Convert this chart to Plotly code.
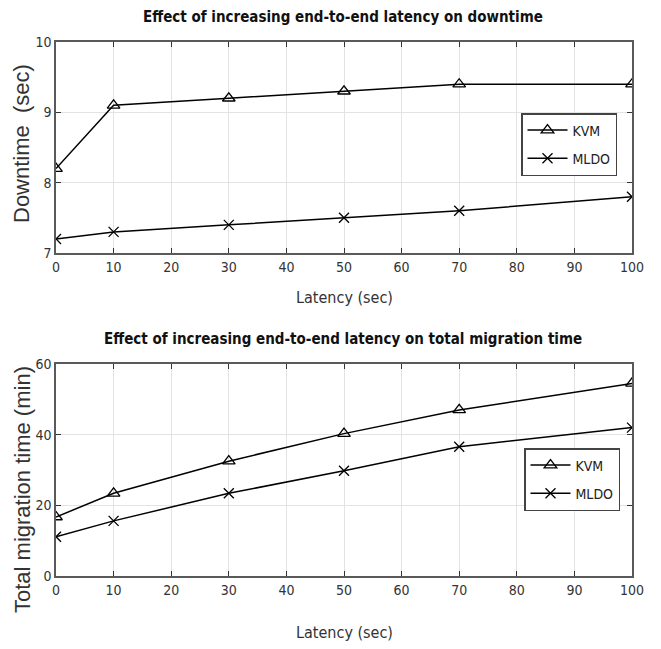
import plotly.graph_objects as go

latency = [0, 10, 30, 50, 70, 100]
downtime_kvm = [8.2, 9.1, 9.2, 9.3, 9.4, 9.4]
downtime_mldo = [7.2, 7.3, 7.4, 7.5, 7.6, 7.8]
migration_kvm = [16.7, 23.4, 32.5, 40.3, 47.0, 54.5]
migration_mldo = [11.1, 15.6, 23.4, 29.8, 36.6, 42.0]
x_ticks = [0, 10, 20, 30, 40, 50, 60, 70, 80, 90, 100]

NARROW = "DejaVu Sans Condensed, Liberation Sans Narrow, Arial Narrow, sans-serif"
WIDE = "Liberation Sans, Arial, sans-serif"

fig = go.Figure()

line = dict(color="black", width=1.5)
tri = dict(symbol="triangle-up-open", size=11, color="black", line=dict(width=1.3, color="black"))
xm = dict(symbol="x-thin-open", size=10, color="black", line=dict(width=1.3, color="black"))

fig.add_trace(go.Scatter(x=latency, y=downtime_kvm, name="KVM", mode="lines+markers",
                         line=line, marker=tri, xaxis="x", yaxis="y", legend="legend",
                         legendgroup="a"))
fig.add_trace(go.Scatter(x=latency, y=downtime_mldo, name="MLDO", mode="lines+markers",
                         line=line, marker=xm, xaxis="x", yaxis="y", legend="legend",
                         legendgroup="b"))
fig.add_trace(go.Scatter(x=latency, y=migration_kvm, name="KVM", mode="lines+markers",
                         line=line, marker=tri, xaxis="x2", yaxis="y2", legend="legend2",
                         legendgroup="c"))
fig.add_trace(go.Scatter(x=latency, y=migration_mldo, name="MLDO", mode="lines+markers",
                         line=line, marker=xm, xaxis="x2", yaxis="y2", legend="legend2",
                         legendgroup="d"))

W, H = 661, 649
OFF = 8  # default body margin of the page
PW, PH = W - OFF, H - OFF


def fx(p):
    return (p - OFF) / PW


def fy(p):
    return 1 - (p - OFF) / PH


xdom = [fx(56), fx(632)]
top_dom = [fy(253), fy(42)]
bot_dom = [fy(576), fy(364)]

axis_common = dict(
    showgrid=True, gridcolor="#e3e3e3", gridwidth=1,
    showline=True, linecolor="#5a5a5a", linewidth=1.5, mirror="ticks",
    ticks="inside", ticklen=5, tickcolor="#333333", tickwidth=1,
    zeroline=False, automargin=False,
    tickfont=dict(family=NARROW, size=14, color="#333333"),
)

legend_common = dict(xanchor="right", yanchor="top", bgcolor="white",
                     bordercolor="#444444", borderwidth=1.5, tracegroupgap=7,
                     font=dict(family=NARROW, size=14, color="#222222"), itemwidth=40)

fig.update_layout(
    width=PW, height=PH,
    margin=dict(l=0, r=0, t=0, b=0),
    paper_bgcolor="white", plot_bgcolor="white",
    xaxis=dict(domain=xdom, anchor="y", range=[0, 100], tickvals=x_ticks, **axis_common),
    yaxis=dict(domain=top_dom, anchor="x", range=[7, 10], tickvals=[7, 8, 9, 10], **axis_common),
    xaxis2=dict(domain=xdom, anchor="y2", range=[0, 100], tickvals=x_ticks, **axis_common),
    yaxis2=dict(domain=bot_dom, anchor="x2", range=[0, 60], tickvals=[0, 20, 40, 60], **axis_common),
    legend=dict(x=fx(617), y=fy(113), **legend_common),
    legend2=dict(x=fx(620), y=fy(448), **legend_common),
    annotations=[
        dict(text="<b>Effect of increasing end-to-end latency on downtime</b>",
             x=fx(343), y=fy(17), xref="paper", yref="paper", showarrow=False,
             xanchor="center", yanchor="middle",
             font=dict(family=NARROW, size=15, color="#111111")),
        dict(text="<b>Effect of increasing end-to-end latency on total migration time</b>",
             x=fx(343), y=fy(339), xref="paper", yref="paper", showarrow=False,
             xanchor="center", yanchor="middle",
             font=dict(family=NARROW, size=15, color="#111111")),
        dict(text="Latency (sec)", x=fx(344), y=fy(298), xref="paper", yref="paper",
             xanchor="center", yanchor="middle",
             showarrow=False, font=dict(family=NARROW, size=16, color="#333333")),
        dict(text="Latency (sec)", x=fx(344), y=fy(632), xref="paper", yref="paper",
             xanchor="center", yanchor="middle",
             showarrow=False, font=dict(family=NARROW, size=16, color="#333333")),
        dict(text="Downtime  (sec)", x=fx(22), y=fy(144), xref="paper", yref="paper",
             xanchor="center", yanchor="middle",
             showarrow=False, textangle=-90, font=dict(family=WIDE, size=22, color="#333333")),
        dict(text="Total migration time (min)", x=fx(22), y=fy(490), xref="paper", yref="paper",
             xanchor="center", yanchor="middle",
             showarrow=False, textangle=-90, font=dict(family=WIDE, size=22, color="#333333")),
    ],
)

fig.write_html("out.html")
